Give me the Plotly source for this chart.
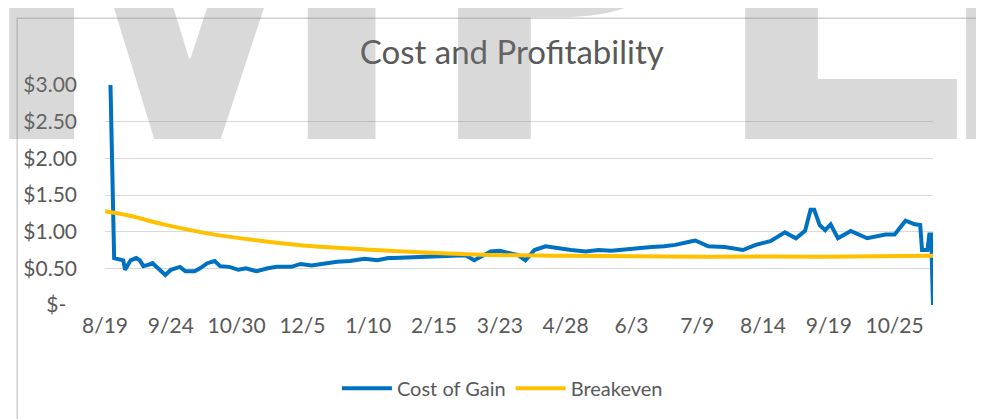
import plotly.graph_objects as go

# ---------------- data ----------------
cost_dates = ["2018-08-22","2018-08-23","2018-08-24","2018-08-29","2018-08-30","2018-09-02","2018-09-05","2018-09-07",
              "2018-09-09","2018-09-12","2018-09-14","2018-09-17","2018-09-21","2018-09-24","2018-09-29","2018-10-02",
              "2018-10-07","2018-10-10","2018-10-14","2018-10-18","2018-10-21","2018-10-26","2018-10-31","2018-11-04",
              "2018-11-10","2018-11-16","2018-11-21","2018-11-29","2018-12-04","2018-12-10","2018-12-17","2018-12-24",
              "2018-12-31","2019-01-08","2019-01-15","2019-01-21","2019-01-24","2019-02-06","2019-02-21","2019-03-04",
              "2019-03-09","2019-03-18","2019-03-23","2019-04-02","2019-04-06","2019-04-11","2019-04-17","2019-04-24",
              "2019-05-01","2019-05-09","2019-05-16","2019-05-23","2019-06-03","2019-06-14","2019-06-21","2019-06-27",
              "2019-07-06","2019-07-08","2019-07-15","2019-07-24","2019-08-03","2019-08-10","2019-08-18","2019-08-26",
              "2019-09-01","2019-09-06","2019-09-09","2019-09-11","2019-09-14","2019-09-17","2019-09-20","2019-09-24",
              "2019-10-01","2019-10-10","2019-10-20","2019-10-25","2019-10-31","2019-11-05","2019-11-08","2019-11-09",
              "2019-11-12","2019-11-13","2019-11-14","2019-11-15"]
cost_of_gain = [3.00,1.50,0.64,0.61,0.48,0.61,0.64,0.61,
                0.53,0.55,0.57,0.50,0.41,0.48,0.52,0.46,
                0.46,0.50,0.57,0.60,0.53,0.52,0.48,0.50,
                0.46,0.50,0.52,0.52,0.56,0.54,0.57,0.59,
                0.60,0.63,0.61,0.64,0.64,0.65,0.67,0.68,
                0.61,0.73,0.74,0.68,0.61,0.75,0.80,0.77,
                0.75,0.73,0.75,0.74,0.77,0.79,0.80,0.82,
                0.87,0.88,0.80,0.79,0.75,0.82,0.87,0.99,
                0.91,1.01,1.30,1.30,1.09,1.02,1.10,0.91,
                1.01,0.91,0.96,0.96,1.15,1.10,1.09,0.75,
                0.75,0.96,0.96,0.00]

breakeven_dates = ["2018-08-19","2018-09-01","2018-09-20","2018-10-18","2018-11-14","2018-12-11","2019-01-21",
                   "2019-03-09","2019-04-29","2019-06-23","2019-08-20","2019-10-01","2019-11-15"]
breakeven = [1.28,1.22,1.10,0.96,0.87,0.80,0.74,0.69,0.67,0.66,0.66,0.66,0.67]

x_tick_dates = ["2018-08-19","2018-09-24","2018-10-30","2018-12-05","2019-01-10","2019-02-15","2019-03-23",
                "2019-04-28","2019-06-03","2019-07-09","2019-08-14","2019-09-19","2019-10-25"]
x_tick_labels = ["8/19","9/24","10/30","12/5","1/10","2/15","3/23","4/28","6/3","7/9","8/14","9/19","10/25"]
y_tick_values = [0, 0.5, 1.0, 1.5, 2.0, 2.5, 3.0]
y_tick_labels = ["$-\u00a0\u00a0", "$0.50", "$1.00", "$1.50", "$2.00", "$2.50", "$3.00"]

title_text = "Cost and Profitability"
watermark_letters = ["M", "P", "L", "E"]
watermark_x = [0.106, 0.556, 0.885, 1.150]   # paper positions (letter centres)

# ---------------- figure ----------------
FONT = "Lato, Roboto, sans-serif"
GREY = "#595959"

fig = go.Figure()
fig.add_trace(go.Scatter(x=cost_dates, y=cost_of_gain, name="Cost of Gain", mode="lines",
                         line=dict(color="#0070C0", width=4)))
fig.add_trace(go.Scatter(x=breakeven_dates, y=breakeven, name="Breakeven", mode="lines",
                         line=dict(color="#FFC000", width=4, shape="spline", smoothing=1.0)))

fig.update_layout(
    width=984, height=419,
    margin=dict(l=97, r=59, t=77, b=122),
    paper_bgcolor="white", plot_bgcolor="white",
    font=dict(family=FONT, color=GREY, size=21),
    title=dict(text=title_text, x=0.512, xref="container", xanchor="center",
               y=0.895, yref="container", yanchor="middle",
               font=dict(family=FONT, size=33, color=GREY)),
    showlegend=True,
    legend=dict(orientation="h", x=0.48, xanchor="center", y=-0.378, yanchor="middle",
                font=dict(family=FONT, size=20, color=GREY), bgcolor="rgba(0,0,0,0)",
                itemwidth=50, traceorder="normal"),
    xaxis=dict(type="date", range=["2018-08-19", "2019-11-15"], tickmode="array",
               tickvals=x_tick_dates, ticktext=x_tick_labels, showgrid=False,
               showline=False, zeroline=False, ticks="", ticklabelstandoff=6,
               tickfont=dict(family=FONT, size=21, color=GREY)),
    yaxis=dict(range=[0, 3], tickmode="array", tickvals=y_tick_values, ticktext=y_tick_labels,
               showgrid=True, gridcolor="#d9d9d9", gridwidth=1, zeroline=False, showline=False,
               ticks="", ticklabelstandoff=27,
               tickfont=dict(family=FONT, size=21, color=GREY)),
)

# chart-area border
fig.add_shape(type="rect", xref="paper", yref="paper", x0=-0.106, x1=1.5, y0=-1.0, y1=1.303,
              line=dict(color="#d0d0d0", width=1.5), fillcolor="rgba(0,0,0,0)", layer="above")

# watermark letters
for letter, xp in zip(watermark_letters, watermark_x):
    fig.add_annotation(text=letter, x=xp, y=0.106, xref="paper", yref="paper",
                       xanchor="center", yanchor="bottom", showarrow=False,
                       font=dict(family="Open Sans", size=480, color="rgba(128,128,128,0.3)", weight="bold"))

fig.write_html("out.html")
